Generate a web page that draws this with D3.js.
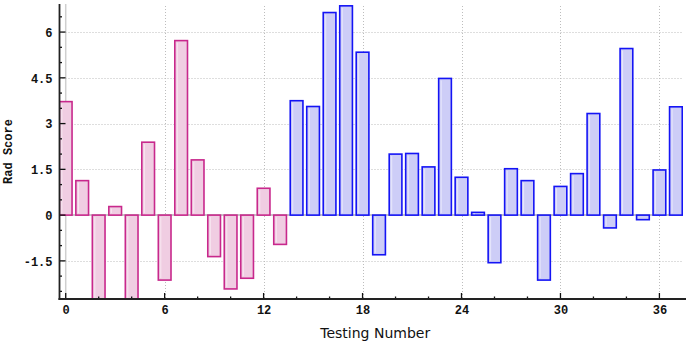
<!DOCTYPE html>
<html>
<head>
<meta charset="utf-8">
<script src="https://cdn.jsdelivr.net/npm/d3@7/dist/d3.min.js"></script>
<style>
html,body{margin:0;padding:0;background:#fff;}
svg{display:block;}
</style>
</head>
<body>
<svg id="chart" width="686" height="348"></svg>
<script>
// ---- data ----
const testingNumbers = d3.range(0, 38);
const radScores = [
  3.72, 1.13, -2.95, 0.28, -2.95, 2.39, -2.13, 5.72, 1.81, -1.36,
  -2.42, -2.07, 0.88, -0.96,
  3.75, 3.56, 6.64, 6.86, 5.34, -1.30, 2.00, 2.02, 1.58, 4.48,
  1.24, 0.09, -1.56, 1.52, 1.13, -2.13, 0.94, 1.36, 3.33, -0.42,
  5.46, -0.15, 1.48, 3.55
];
const groupOf = testingNumbers.map(i => i < 14 ? "A" : "B");
const xTicks = [0, 6, 12, 18, 24, 30, 36];
const yTicks = [-1.5, 0, 1.5, 3, 4.5, 6];
const yTickLabels = ["-1.5", "0", "1.5", "3", "4.5", "6"];

// ---- layout ----
const svg = d3.select("#chart");
const L = 59.5, R = 683, T = 4, B = 299;
const x = d3.scaleLinear().domain([-0.376, 37.43]).range([L, R]);
const y = d3.scaleLinear().domain([-2.75, 6.92]).range([B, T]);
const barW = x(0.77) - x(0);

const colors = {
  A: {stroke: "#c8288c", fill: "#f0cde2"},
  B: {stroke: "#1414f5", fill: "#cdcdf7"}
};

svg.append("defs").append("clipPath").attr("id", "plotclip")
  .append("rect").attr("x", L).attr("y", T - 1).attr("width", R - L).attr("height", B - T + 1);

// grid
const grid = svg.append("g");
grid.selectAll("line.vg").data(xTicks.filter(d => d !== 0)).enter().append("line")
  .attr("x1", d => Math.round(x(d)) + 0.5).attr("x2", d => Math.round(x(d)) + 0.5)
  .attr("y1", T + 2).attr("y2", B)
  .attr("stroke", "#bdbdbd").attr("stroke-width", 1).attr("stroke-dasharray", "1,2");
grid.selectAll("line.hg").data(yTicks.filter(d => d !== 0)).enter().append("line")
  .attr("x1", L).attr("x2", R - 1)
  .attr("y1", d => Math.round(y(d)) + 0.5).attr("y2", d => Math.round(y(d)) + 0.5)
  .attr("stroke", "#bdbdbd").attr("stroke-width", 1).attr("stroke-dasharray", "1,2");
// solid zero lines
grid.append("line")
  .attr("x1", L).attr("x2", R).attr("y1", y(0)).attr("y2", y(0))
  .attr("stroke", "#b4b4b4").attr("stroke-width", 1.5);
grid.append("line")
  .attr("x1", x(0)).attr("x2", x(0)).attr("y1", T).attr("y2", B)
  .attr("stroke", "#cfcfcf").attr("stroke-width", 1.5);

// bars
const bars = svg.append("g").attr("clip-path", "url(#plotclip)");
bars.selectAll("rect.bar").data(testingNumbers).enter().append("rect")
  .attr("x", i => x(i) - barW / 2)
  .attr("width", barW)
  .attr("y", i => Math.min(y(radScores[i]), y(0)))
  .attr("height", i => Math.abs(y(radScores[i]) - y(0)))
  .attr("fill", i => colors[groupOf[i]].fill)
  .attr("stroke", i => colors[groupOf[i]].stroke)
  .attr("stroke-width", 1.6);
// inner highlight
bars.selectAll("line.hl").data(testingNumbers).enter().append("line")
  .attr("x1", i => x(i) - barW / 2 + 2.5).attr("x2", i => x(i) - barW / 2 + 2.5)
  .attr("y1", i => Math.min(y(radScores[i]), y(0)) + 2)
  .attr("y2", i => Math.max(y(radScores[i]), y(0)) - 2)
  .attr("stroke", "#ffffff").attr("stroke-opacity", 0.55).attr("stroke-width", 1);

// axes
const font = "'Liberation Mono', 'DejaVu Sans Mono', monospace";
const xAxis = svg.append("g").attr("transform", `translate(0,${B})`)
  .call(d3.axisBottom(x).tickValues(xTicks).tickSize(0).tickFormat(d3.format("d")));
xAxis.select(".domain").remove();
xAxis.selectAll("text").attr("dy", "0").attr("y", 15)
  .attr("font-family", font).attr("font-size", 12).attr("font-weight", "bold").attr("fill", "#111");

const yAxis = svg.append("g").attr("transform", `translate(${L},0)`)
  .call(d3.axisLeft(y).tickValues(yTicks).tickSize(0).tickFormat((d, i) => yTickLabels[i]));
yAxis.select(".domain").remove();
yAxis.selectAll("text").attr("x", -7).attr("dy", "0.35em")
  .attr("font-family", font).attr("font-size", 12).attr("font-weight", "bold").attr("fill", "#111");

// tick marks (inside)
const minorX = d3.range(0, 38, 2);
svg.selectAll("line.xt").data(minorX).enter().append("line")
  .attr("x1", d => x(d)).attr("x2", d => x(d))
  .attr("y1", B).attr("y2", d => xTicks.includes(d) ? B - 6 : B - 2.5)
  .attr("stroke", "#111").attr("stroke-width", 1.3);
const minorY = d3.range(-5, 14).map(k => k * 0.5);
svg.selectAll("line.yt").data(minorY).enter().append("line")
  .attr("y1", d => y(d)).attr("y2", d => y(d))
  .attr("x1", L).attr("x2", d => yTicks.includes(d) ? L + 6 : L + 2.5)
  .attr("stroke", "#111").attr("stroke-width", 1.3);

// axis lines
svg.append("line").attr("x1", L).attr("x2", L).attr("y1", T).attr("y2", B + 1)
  .attr("stroke", "#222").attr("stroke-width", 1.8);
svg.append("line").attr("x1", L - 1).attr("x2", 686).attr("y1", B).attr("y2", B)
  .attr("stroke", "#222").attr("stroke-width", 1.8);

// titles
svg.append("text").attr("x", (L + R) / 2 + 4).attr("y", 338)
  .attr("text-anchor", "middle").attr("font-family", "'DejaVu Sans', 'Noto Sans', sans-serif")
  .attr("font-size", 14).attr("fill", "#111").text("Testing Number");
svg.append("text").attr("transform", `translate(12,${(T + B) / 2}) rotate(-90)`)
  .attr("text-anchor", "middle").attr("font-family", "'Liberation Mono', 'DejaVu Serif', serif")
  .attr("font-size", 12).attr("font-weight", "bold").attr("fill", "#111").text("Rad Score");
</script>
</body>
</html>
